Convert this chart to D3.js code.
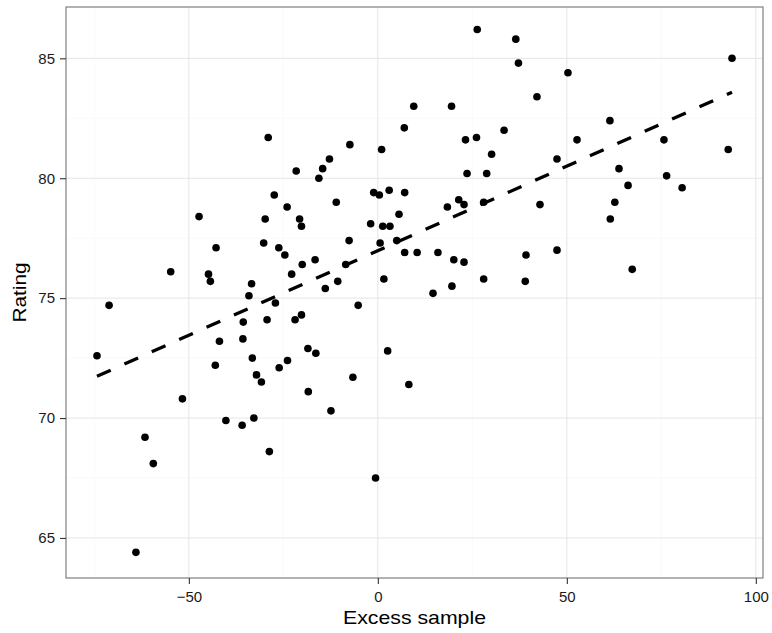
<!DOCTYPE html>
<html><head><meta charset="utf-8">
<script src="https://cdn.jsdelivr.net/npm/d3@7"></script>
<style>body{margin:0;background:#fff;} text{font-family:"Liberation Sans",Arial,sans-serif;}</style>
</head><body><svg id="c" width="772" height="633"></svg>
<script>
const excess = [9.5,7.0,-29.0,-7.4,1.0,-12.8,-14.6,-21.6,-15.6,-1.1,0.4,3.0,7.1,-27.4,-11.0,-24.0,5.6,-47.3,-29.8,-20.7,-20.2,-1.9,1.3,3.2,-7.6,5.0,-30.2,0.6,-42.8,-26.2,7.1,10.4,-24.6,-16.6,-20.0,-8.5,-54.8,-44.8,-22.8,-44.3,-10.6,1.6,-33.4,-13.9,-34.1,
26.3,36.5,37.2,93.7,50.3,42.1,19.5,61.4,33.4,23.2,26.1,52.7,75.7,92.7,30.1,47.4,63.8,23.6,28.8,76.4,66.2,80.5,21.4,18.4,22.8,28.0,42.9,62.7,61.5,15.9,20.1,22.8,39.2,47.4,67.3,28.0,39.0,14.6,19.6,
-71.1,-27.1,-5.2,-35.6,-29.3,-21.9,-20.2,-41.9,-35.7,-18.5,-16.4,2.6,-74.3,-33.2,-23.9,-43.0,-26.1,-32.1,-30.8,-6.6,8.2,-18.4,-51.7,-12.4,-40.2,-35.9,-32.8,-61.6,-28.7,-59.4,-0.6,-64.0];
const rating = [83.0,82.1,81.7,81.4,81.2,80.8,80.4,80.3,80.0,79.4,79.3,79.5,79.4,79.3,79.0,78.8,78.5,78.4,78.3,78.3,78.0,78.1,78.0,78.0,77.4,77.4,77.3,77.3,77.1,77.1,76.9,76.9,76.8,76.6,76.4,76.4,76.1,76.0,76.0,75.7,75.7,75.8,75.6,75.4,75.1,
86.2,85.8,84.8,85.0,84.4,83.4,83.0,82.4,82.0,81.6,81.7,81.6,81.6,81.2,81.0,80.8,80.4,80.2,80.2,80.1,79.7,79.6,79.1,78.8,78.9,79.0,78.9,79.0,78.3,76.9,76.6,76.5,76.8,77.0,76.2,75.8,75.7,75.2,75.5,
74.7,74.8,74.7,74.0,74.1,74.1,74.3,73.2,73.3,72.9,72.7,72.8,72.6,72.5,72.4,72.2,72.1,71.8,71.5,71.7,71.4,71.1,70.8,70.3,69.9,69.7,70.0,69.2,68.6,68.1,67.5,64.4];
const xTicks = [-50,0,50,100];
const xMinor = [-75,-25,25,75];
const yTicks = [65,70,75,80,85];
const yMinor = [67.5,72.5,77.5,82.5];
const xTitle = "Excess sample", yTitle = "Rating";

const svg = d3.select("#c");
const L=66, R=763, T=7, B=578;
const x = d3.scaleLinear().domain([-82.5,101.9]).range([L,R]);
const y = d3.scaleLinear().domain([63.33,87.14]).range([B,T]);

const g = svg.append("g");
g.append("rect").attr("x",L).attr("y",T).attr("width",R-L).attr("height",B-T).attr("fill","#fff");
g.selectAll(".xm").data(xMinor).enter().append("line").attr("x1",d=>x(d)).attr("x2",d=>x(d)).attr("y1",T).attr("y2",B).attr("stroke","#fafafa").attr("stroke-width",1);
g.selectAll(".ym").data(yMinor).enter().append("line").attr("y1",d=>y(d)).attr("y2",d=>y(d)).attr("x1",L).attr("x2",R).attr("stroke","#fafafa").attr("stroke-width",1);
g.selectAll(".xg").data(xTicks).enter().append("line").attr("x1",d=>x(d)).attr("x2",d=>x(d)).attr("y1",T).attr("y2",B).attr("stroke","#e5e5e5").attr("stroke-width",1);
g.selectAll(".yg").data(yTicks).enter().append("line").attr("y1",d=>y(d)).attr("y2",d=>y(d)).attr("x1",L).attr("x2",R).attr("stroke","#e5e5e5").attr("stroke-width",1);

// points
const pts = excess.map((e,i)=>[e,rating[i]]);
g.selectAll("circle").data(pts).enter().append("circle")
 .attr("cx",d=>x(d[0])).attr("cy",d=>y(d[1])).attr("r",3.8).attr("fill","#000");

// linear regression
const mx=d3.mean(pts,d=>d[0]), my=d3.mean(pts,d=>d[1]);
const b = d3.sum(pts,d=>(d[0]-mx)*(d[1]-my))/d3.sum(pts,d=>(d[0]-mx)**2);
const a = my - b*mx;
const [x0,x1] = d3.extent(excess);
g.append("path").attr("d",d3.line()([[x(x0),y(a+b*x0)],[x(x1),y(a+b*x1)]]))
 .attr("stroke","#000").attr("stroke-width",3.3).attr("stroke-dasharray","15,15").attr("fill","none");

// border
g.append("rect").attr("x",L).attr("y",T).attr("width",R-L).attr("height",B-T).attr("fill","none").attr("stroke","#7f7f7f").attr("stroke-width",1.2);

// axes
const xa = svg.append("g").attr("transform",`translate(0,${B})`)
 .call(d3.axisBottom(x).tickValues(xTicks).tickSize(6).tickPadding(4).tickFormat(d=>d<0?"\u2212"+Math.abs(d):d));
const ya = svg.append("g").attr("transform",`translate(${L},0)`)
 .call(d3.axisLeft(y).tickValues(yTicks).tickSize(6).tickPadding(5));
[xa,ya].forEach(a=>{a.select(".domain").remove();
 a.selectAll(".tick line").attr("stroke","#333").attr("stroke-width",1.1);
 a.selectAll(".tick text").attr("fill","#1a1a1a").style("font-size","15px").style("font-family","'Liberation Sans',Arial,sans-serif");});
xa.selectAll(".tick text").attr("y",24).attr("dy",null);

svg.append("text").attr("x",(L+R)/2).attr("y",624).attr("text-anchor","middle").style("font-size","19px")
 .attr("textLength",143).attr("lengthAdjust","spacingAndGlyphs").attr("fill","#000").text(xTitle);
svg.append("text").attr("transform",`translate(26,${(T+B)/2}) rotate(-90)`).attr("text-anchor","middle").style("font-size","19px")
 .attr("textLength",60).attr("lengthAdjust","spacingAndGlyphs").attr("fill","#000").text(yTitle);
</script></body></html>
